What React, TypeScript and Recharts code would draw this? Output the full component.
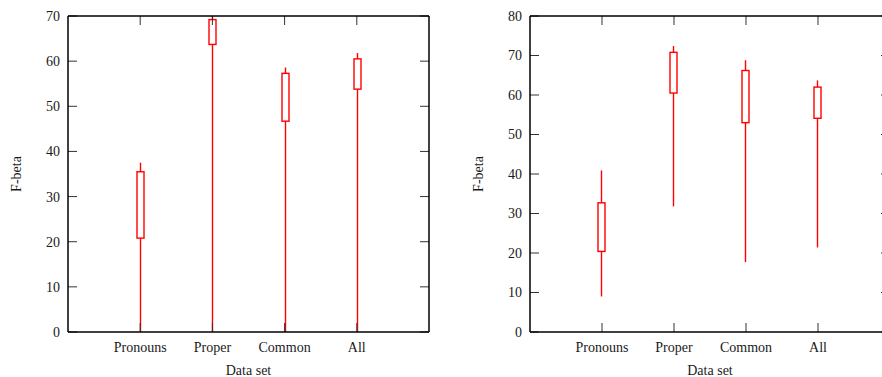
import { ComposedChart, Bar, XAxis, YAxis, ReferenceLine } from 'recharts'

const categories = ['Pronouns', 'Proper', 'Common', 'All']
const catPos = [1, 2, 3, 4]

// left panel
const leftMin = [0, 0, 0, 0]
const leftQ1 = [20.8, 63.7, 46.7, 53.8]
const leftQ3 = [35.5, 69.2, 57.3, 60.5]
const leftMax = [37.5, 70, 58.6, 61.8]
const leftTicks = [0, 10, 20, 30, 40, 50, 60, 70]

// right panel
const rightMin = [9.0, 31.8, 17.7, 21.4]
const rightQ1 = [20.4, 60.5, 53.0, 54.1]
const rightQ3 = [32.7, 70.8, 66.2, 62.0]
const rightMax = [40.9, 72.4, 68.8, 63.7]
const rightTicks = [0, 10, 20, 30, 40, 50, 60, 70, 80]

const FONT = '"Liberation Serif", "Times New Roman", serif'
const RED = '#ff0000'
const INK = '#1a1a1a'
const TICK_LEN = 9

const build = (mins: number[], q1s: number[], q3s: number[], maxs: number[]) =>
  categories.map((name, i) => ({
    name,
    pos: catPos[i],
    min: mins[i],
    q1: q1s[i],
    q3: q3s[i],
    max: maxs[i],
  }))

const leftData = build(leftMin, leftQ1, leftQ3, leftMax)
const rightData = build(rightMin, rightQ1, rightQ3, rightMax)

const BoxShape = (props: any) => {
  const { x, y, width, height, payload } = props
  const { min, q1, q3, max } = payload
  const span = max - min || 1
  const py = (v: number) => y + ((max - v) / span) * height
  const cx = Math.floor(x + width / 2) + 0.5
  const bx = cx - 3.5
  return (
    <g>
      <line x1={cx} x2={cx} y1={py(max)} y2={py(min)} stroke={RED} strokeWidth={1.4} />
      <rect x={bx} y={py(q3)} width={width} height={py(q1) - py(q3)} fill="#fff" stroke={RED} strokeWidth={1.4} />
    </g>
  )
}

// inward tick marks on both sides of the frame
const HTicks = (props: any) => {
  const { x1, x2, y1 } = props
  const a = Math.min(x1, x2)
  const b = Math.max(x1, x2)
  return (
    <g>
      <line x1={a} x2={a + TICK_LEN} y1={y1} y2={y1} stroke="#333" strokeWidth={1} />
      <line x1={b - TICK_LEN} x2={b} y1={y1} y2={y1} stroke="#333" strokeWidth={1} />
    </g>
  )
}

const VTicks = (props: any) => {
  const { x1, y1, y2 } = props
  const a = Math.min(y1, y2)
  const b = Math.max(y1, y2)
  return (
    <g>
      <line x1={x1} x2={x1} y1={a} y2={a + TICK_LEN} stroke="#333" strokeWidth={1} />
      <line x1={x1} x2={x1} y1={b - TICK_LEN} y2={b} stroke="#333" strokeWidth={1} />
    </g>
  )
}

const tickStyle = { fontFamily: FONT, fontSize: 14, fill: INK }
const labelStyle = { fontFamily: FONT, fontSize: 14, fill: INK }
const axisLine = { stroke: '#000', strokeWidth: 1.5 }

function BoxPanel({ data, ticks, max, width, yWidth, right, ylabelOffset }: {
  data: any[]; ticks: number[]; max: number; width: number; yWidth: number; right: number; ylabelOffset: number
}) {
  return (
    <ComposedChart width={width} height={377} data={data} margin={{ top: 16, right, bottom: 0, left: 0 }}>
      <XAxis
        xAxisId="b"
        dataKey="pos"
        type="number"
        domain={[0, 5]}
        ticks={catPos}
        tickFormatter={(v: number) => categories[v - 1] ?? ''}
        height={45}
        tickSize={-6}
        tickMargin={16}
        tick={tickStyle}
        axisLine={axisLine}
        tickLine={false}
        label={{ value: 'Data set', position: 'insideBottom', offset: 2, style: labelStyle }}
      />
      <YAxis
        yAxisId="l"
        type="number"
        domain={[0, max]}
        ticks={ticks}
        width={yWidth}
        tickSize={-6}
        tickMargin={14}
        tick={tickStyle}
        axisLine={axisLine}
        tickLine={false}
        label={{ value: 'F-beta', angle: -90, position: 'insideLeft', offset: ylabelOffset, style: { ...labelStyle, textAnchor: 'middle' } }}
      />
      {ticks.map((t) => (
        <ReferenceLine key={'h' + t} xAxisId="b" yAxisId="l" y={t} shape={HTicks} />
      ))}
      {catPos.map((p) => (
        <ReferenceLine key={'v' + p} xAxisId="b" yAxisId="l" x={p} shape={VTicks} />
      ))}
      <ReferenceLine xAxisId="b" yAxisId="l" y={max} stroke="#000" strokeWidth={1.5} />
      <ReferenceLine xAxisId="b" yAxisId="l" x={5} stroke="#000" strokeWidth={1.5} />
      <Bar
        xAxisId="b"
        yAxisId="l"
        dataKey={(d: any) => [d.min, d.max]}
        barSize={7}
        shape={BoxShape}
        isAnimationActive={false}
      />
    </ComposedChart>
  )
}

export default function App() {
  return (
    <div style={{ position: 'absolute', left: 0, top: 0, width: 882, height: 377, overflow: 'hidden', background: '#fff' }}>
      <div style={{ position: 'absolute', left: 0, top: 0 }}>
        <BoxPanel data={leftData} ticks={leftTicks} max={70} width={441} yWidth={68} right={12} ylabelOffset={16} />
      </div>
      <div style={{ position: 'absolute', left: 441, top: 0 }}>
        <BoxPanel data={rightData} ticks={rightTicks} max={80} width={460} yWidth={89} right={11} ylabelOffset={37} />
      </div>
    </div>
  )
}
